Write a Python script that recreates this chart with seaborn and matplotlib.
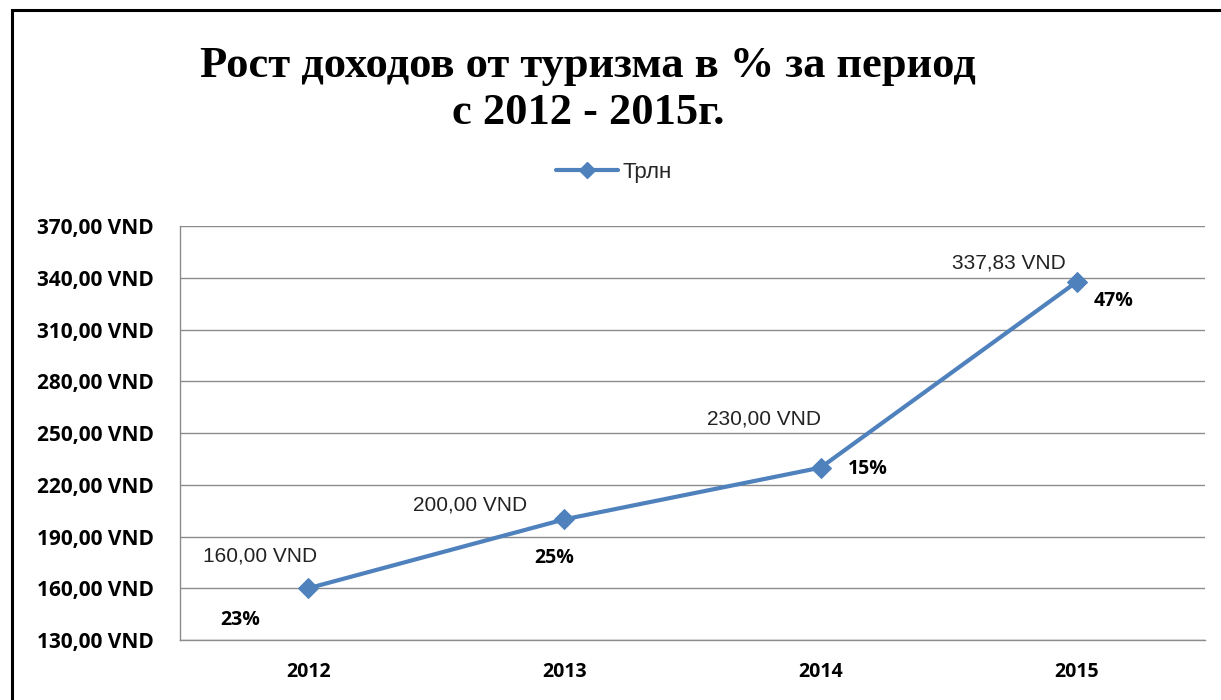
"""
Рост доходов от туризма в % за период с 2012 - 2015г.
"""

import pandas as pd
import numpy as np
import matplotlib.pyplot as plt
import seaborn as sns
from matplotlib.patches import Rectangle
from matplotlib.ticker import FuncFormatter, FixedLocator
from matplotlib.lines import Line2D

# Data
years = ['2012', '2013', '2014', '2015']
revenue = [160.00, 200.00, 230.00, 337.83]
growth = ['23%', '25%', '15%', '47%']
series_name = 'Трлн'
title_text = 'Рост доходов от туризма в % за период\nс 2012 - 2015г.'

# Style
sns.set_style("white")
plt.rcParams['font.family'] = ['Open Sans', 'DejaVu Sans']
blue = '#4F81BD'
grid_col = '#8C8C8C'
sans = ['Liberation Sans', 'DejaVu Sans']

df = pd.DataFrame({'pos': np.arange(len(years)), 'value': revenue})

fig = plt.figure(figsize=(12.21, 7.0), dpi=100)
ax = fig.add_axes([0.1474, 0.0857, 0.8395, 0.591])

sns.lineplot(data=df, x='pos', y='value', ax=ax, color=blue, linewidth=3,
             marker='D', markersize=10, markeredgecolor=blue, label=series_name)

ax.set_xlim(-0.5, len(years) - 0.5)
ax.set_ylim(130, 370)
ax.set_yticks(np.arange(130, 371, 30))
ax.yaxis.set_major_formatter(FuncFormatter(lambda v, p: f"{v:.2f}".replace('.', ',') + " VND"))
ax.set_xticks(df['pos'])
ax.set_xticklabels(years)
ax.xaxis.set_minor_locator(FixedLocator(np.arange(-0.5, len(years), 1.0)))
ax.set_xlabel('')
ax.set_ylabel('')

ax.grid(True, axis='y', color=grid_col, linewidth=1)
ax.set_axisbelow(True)
for side in ['top', 'right']:
    ax.spines[side].set_visible(False)
for side in ['left', 'bottom']:
    ax.spines[side].set_color(grid_col)
    ax.spines[side].set_linewidth(1)

ax.tick_params(axis='y', which='major', length=5, color=grid_col, direction='out',
               labelsize=15, pad=14, labelcolor='black')
ax.tick_params(axis='x', which='major', length=0, labelsize=14, pad=16, labelcolor='black')
ax.tick_params(axis='x', which='minor', length=10, color=grid_col, direction='out')
for lbl in ax.get_xticklabels() + ax.get_yticklabels():
    lbl.set_fontweight('bold')

# Data labels
value_offsets = [(-48, 32), (-94, 14), (-57, 49), (-68, 19)]
pct_offsets = [(-68, -32), (-10, -39), (47, -1), (37, -19)]
for i, (v, g) in enumerate(zip(revenue, growth)):
    ax.annotate(f"{v:.2f}".replace('.', ',') + " VND", (i, v),
                xytext=value_offsets[i], textcoords='offset pixels',
                ha='center', va='center', fontsize=15, color='#222222', family=sans)
    ax.annotate(g, (i, v), xytext=pct_offsets[i], textcoords='offset pixels',
                ha='center', va='center', fontsize=14, fontweight='bold', color='black')

# Legend
ax.legend_.remove()
handle = Line2D([], [], color=blue, linewidth=3, marker='D', markersize=8)
fig.legend([handle], [series_name], loc='center', bbox_to_anchor=(0.503, 0.754),
           frameon=False, handlelength=2.8, handletextpad=0.2,
           prop={'family': sans, 'size': 16})

# Title
fig.text(0.4816, 0.872, title_text, ha='center', va='center', fontsize=32,
         fontweight='bold', family=['Liberation Serif', 'DejaVu Serif'],
         linespacing=1.2, color='black')

# Chart frame
fig.patches.append(Rectangle((0.0098, -0.2), 1.2, 0.2 + 0.9857, transform=fig.transFigure,
                             fill=False, edgecolor='black', linewidth=2.2, zorder=10))

fig.savefig('out.png', dpi=100)
plt.close(fig)
